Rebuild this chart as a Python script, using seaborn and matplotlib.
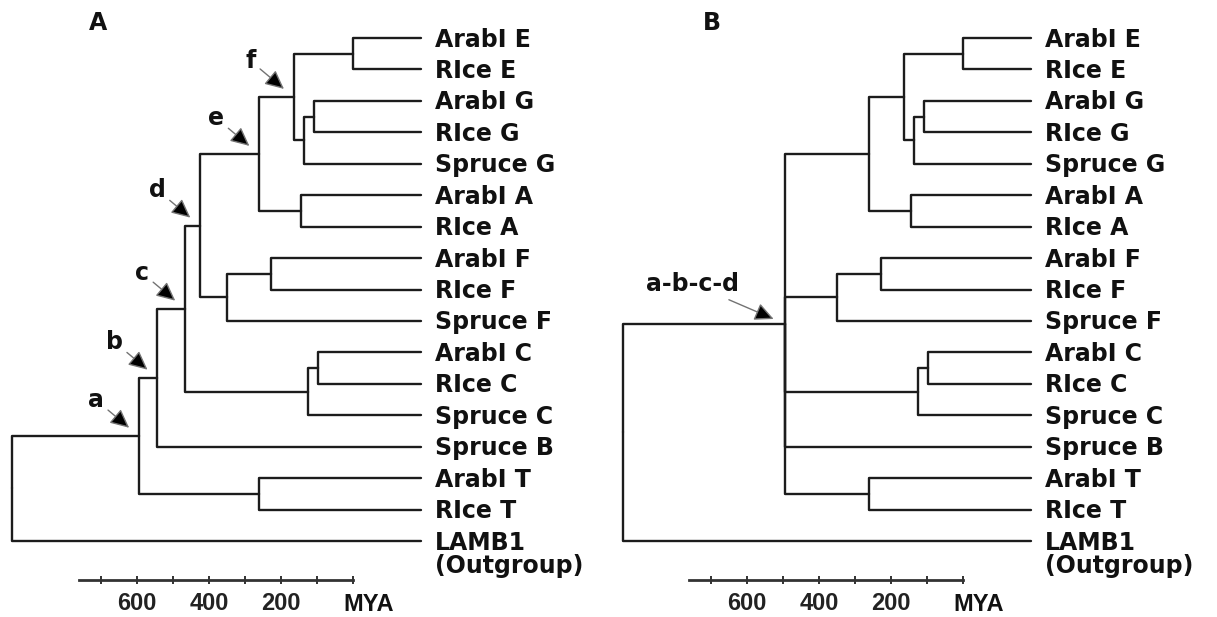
import matplotlib
matplotlib.use("Agg")
import matplotlib.pyplot as plt
import seaborn as sns
import pandas as pd

# ---------------- data ----------------
leaf_labels = ["ArabI E", "RIce E", "ArabI G", "RIce G", "Spruce G",
               "ArabI A", "RIce A", "ArabI F", "RIce F", "Spruce F",
               "ArabI C", "RIce C", "Spruce C", "Spruce B",
               "ArabI T", "RIce T", "LAMB1"]
outgroup_note = "(Outgroup)"
leaf_age = -188  # tip position on the drawn MYA scale

# Tree A: internal nodes (name, age in MYA on the drawn scale, children)
nodeA_names = ["E", "G", "GS", "f", "Acl", "e", "F", "FS", "d",
               "C", "CS", "c", "b", "T", "a", "root"]
nodeA_ages = [2, 110, 138, 166, 146, 262, 228, 350, 426,
              98, 126, 468, 545, 262, 596, 948]
nodeA_children = [["ArabI E", "RIce E"], ["ArabI G", "RIce G"], ["G", "Spruce G"],
                  ["E", "GS"], ["ArabI A", "RIce A"], ["f", "Acl"],
                  ["ArabI F", "RIce F"], ["F", "Spruce F"], ["e", "FS"],
                  ["ArabI C", "RIce C"], ["C", "Spruce C"], ["d", "CS"],
                  ["c", "Spruce B"], ["ArabI T", "RIce T"], ["b", "T"],
                  ["a", "LAMB1"]]
arrowA_nodes = ["a", "b", "c", "d", "e", "f"]
arrowA_texts = ["a", "b", "c", "d", "e", "f"]

# Tree B: duplications a-b-c-d collapsed into one node
nodeB_names = ["E", "G", "GS", "f", "Acl", "e", "F", "FS",
               "C", "CS", "T", "abcd", "root"]
nodeB_ages = [2, 110, 138, 166, 146, 262, 228, 350,
              98, 126, 262, 495, 945]
nodeB_children = [["ArabI E", "RIce E"], ["ArabI G", "RIce G"], ["G", "Spruce G"],
                  ["E", "GS"], ["ArabI A", "RIce A"], ["f", "Acl"],
                  ["ArabI F", "RIce F"], ["F", "Spruce F"],
                  ["ArabI C", "RIce C"], ["C", "Spruce C"],
                  ["ArabI T", "RIce T"],
                  ["e", "FS", "CS", "Spruce B", "T"],
                  ["abcd", "LAMB1"]]
arrowB_nodes = ["abcd"]
arrowB_texts = ["a-b-c-d"]

scale_ticks = [700, 600, 500, 400, 300, 200, 100, 0]
scale_labels = ["", "600", "", "400", "", "200", "", ""]
scale_unit = "MYA"
scale_start = 762
panel_titles = ["A", "B"]

# ---------------- helpers ----------------
def layout(names, ages, children):
    pos = {leaf: (leaf_age, i) for i, leaf in enumerate(leaf_labels)}
    nodes = {n: (a, ch) for n, a, ch in zip(names, ages, children)}

    def place(n):
        if n in pos:
            return pos[n]
        age, ch = nodes[n]
        ys = [place(c)[1] for c in ch]
        pos[n] = (age, (min(ys) + max(ys)) / 2.0)
        return pos[n]

    place("root")
    rows = []
    seg = 0
    for n in names:
        age, ch = nodes[n]
        x0, y0 = pos[n]
        for c in ch:
            xc, yc = pos[c]
            rows += [(seg, x0, y0), (seg, x0, yc), (seg, xc, yc)]
            seg += 1
    return pos, pd.DataFrame(rows, columns=["seg", "x", "y"])


sns.set_theme(style="white")
plt.rcParams["font.family"] = ["DejaVu Sans"]
plt.rcParams["font.weight"] = "bold"

W, H = 1217, 617
fig = plt.figure(figsize=(W / 100, H / 100), dpi=100)

line_color = "#1c1c1c"
label_fs = 17


def draw_panel(ax, names, ages, children, arrow_nodes, arrow_texts, arrow_offsets):
    pos, df = layout(names, ages, children)
    sns.lineplot(data=df, x="x", y="y", units="seg", estimator=None, sort=False,
                 color=line_color, linewidth=1.7, ax=ax, legend=False)
    ax.set_xlim(981.4, -685.3)
    ax.set_ylim(17.239, -1.2087)
    ax.set(xlabel="", ylabel="")
    ax.set_yticks([])
    for s in ["top", "right", "left"]:
        ax.spines[s].set_visible(False)
    sp = ax.spines["bottom"]
    sp.set_visible(True)
    sp.set_color("#333333")
    sp.set_linewidth(2.0)
    sp.set_bounds(0, scale_start)
    ax.set_xticks(scale_ticks)
    ax.set_xticklabels(scale_labels, fontfamily="Liberation Sans",
                       fontweight="bold", fontsize=17)
    ax.tick_params(axis="x", direction="inout", length=6, width=1.3,
                   colors="#222222", pad=6.0, bottom=True)
    ax.annotate(scale_unit, xy=(0, 0), xycoords=("data", "axes fraction"),
                xytext=(15, -31), textcoords="offset pixels",
                ha="center", va="baseline", fontfamily="Liberation Sans",
                fontweight="bold", fontsize=17, color="#111111")
    # leaf labels
    for leaf in leaf_labels:
        x, y = pos[leaf]
        ax.annotate(leaf, xy=(x, y), xytext=(14, -8.5), textcoords="offset pixels",
                    ha="left", va="baseline", fontsize=label_fs,
                    fontweight="bold", color="#111111", annotation_clip=False)
    x, y = pos["LAMB1"]
    ax.annotate(outgroup_note, xy=(x, y), xytext=(14, -32), textcoords="offset pixels",
                ha="left", va="baseline", fontsize=label_fs,
                fontweight="bold", color="#111111", annotation_clip=False)
    # arrows to duplication nodes
    for n, t, off in zip(arrow_nodes, arrow_texts, arrow_offsets):
        ax.annotate(t, xy=pos[n], xytext=off, textcoords="offset pixels",
                    ha="center", va="center", fontsize=label_fs,
                    fontweight="bold", color="#111111",
                    arrowprops=dict(arrowstyle="-|>,head_length=1.15,head_width=0.55",
                                    mutation_scale=10, fc="black", ec="0.45",
                                    lw=1.0, shrinkA=1, shrinkB=9))
    return pos


axA = fig.add_axes([0, 37 / H, 600 / W, 580 / H])
axB = fig.add_axes([610 / W, 37 / H, 600 / W, 580 / H])
axA.patch.set_alpha(0)
axB.patch.set_alpha(0)

draw_panel(axA, nodeA_names, nodeA_ages, nodeA_children, arrowA_nodes, arrowA_texts,
           [(-43, 36)] * len(arrowA_nodes))
draw_panel(axB, nodeB_names, nodeB_ages, nodeB_children, arrowB_nodes, arrowB_texts,
           [(-93, 40)])

fig.text(98 / W, 1 - 23 / H, panel_titles[0], ha="center", va="center",
         fontsize=label_fs, fontweight="bold", color="#111111")
fig.text(712 / W, 1 - 23 / H, panel_titles[1], ha="center", va="center",
         fontsize=label_fs, fontweight="bold", color="#111111")

fig.savefig("out.png", dpi=100, facecolor="white")
